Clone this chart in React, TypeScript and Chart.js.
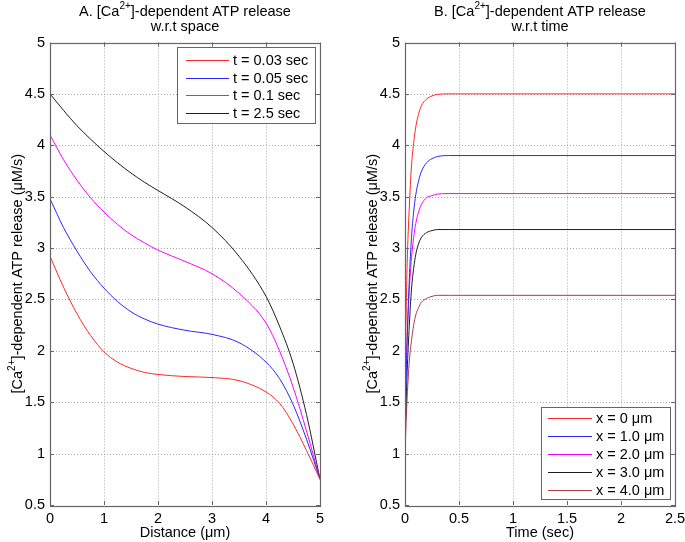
import React, { useEffect, useRef } from "react";
import { Chart, registerables } from "chart.js";
Chart.register(...registerables);

// ---------- Data ----------
const distance = [0, 0.25, 0.5, 0.75, 1, 1.25, 1.5, 1.75, 2, 2.5, 3, 3.5, 4, 4.25, 4.5, 4.75, 5];
const spaceT003 = [2.92, 2.62, 2.36, 2.15, 1.99, 1.89, 1.83, 1.79, 1.77, 1.75, 1.74, 1.71, 1.6, 1.49, 1.29, 1.03, 0.75];
const spaceT005 = [3.48, 3.2, 2.97, 2.77, 2.61, 2.48, 2.38, 2.31, 2.26, 2.2, 2.16, 2.08, 1.89, 1.73, 1.48, 1.14, 0.75];
const spaceT01 = [4.1, 3.86, 3.66, 3.49, 3.35, 3.23, 3.13, 3.05, 2.98, 2.87, 2.75, 2.56, 2.27, 2.0, 1.65, 1.22, 0.75];
const spaceT25 = [4.5, 4.34, 4.19, 4.06, 3.94, 3.83, 3.73, 3.64, 3.56, 3.4, 3.2, 2.92, 2.53, 2.24, 1.88, 1.38, 0.75];

const time = [0, 0.01, 0.02, 0.04, 0.06, 0.08, 0.1, 0.125, 0.15, 0.2, 0.25, 0.3, 0.4, 0.5, 1, 1.5, 2, 2.5];
const timeX0 = [1.8, 2.35, 2.85, 3.4, 3.8, 4.02, 4.18, 4.3, 4.38, 4.45, 4.48, 4.495, 4.5, 4.5, 4.5, 4.5, 4.5, 4.5];
const timeX1 = [1.25, 1.7, 2.1, 2.7, 3.1, 3.35, 3.52, 3.65, 3.74, 3.83, 3.87, 3.89, 3.9, 3.9, 3.9, 3.9, 3.9, 3.9];
const timeX2 = [1.5, 1.85, 2.15, 2.6, 2.9, 3.1, 3.24, 3.35, 3.42, 3.49, 3.51, 3.525, 3.53, 3.53, 3.53, 3.53, 3.53, 3.53];
const timeX3 = [1.15, 1.5, 1.8, 2.25, 2.6, 2.8, 2.94, 3.04, 3.1, 3.15, 3.17, 3.18, 3.18, 3.18, 3.18, 3.18, 3.18, 3.18];
const timeX4 = [1.0, 1.3, 1.55, 1.9, 2.1, 2.25, 2.35, 2.42, 2.47, 2.51, 2.53, 2.54, 2.54, 2.54, 2.54, 2.54, 2.54, 2.54];

const labelsA = ["t = 0.03 sec", "t = 0.05 sec", "t = 0.1 sec", "t = 2.5 sec"];
const labelsB = ["x = 0 μm", "x = 1.0 μm", "x = 2.0 μm", "x = 3.0 μm", "x = 4.0 μm"];
const colorsA = ["rgb(255,40,40)", "rgb(40,40,255)", "rgb(255,0,255)", "rgb(30,30,30)"];
const colorsB = ["rgb(255,40,40)", "rgb(40,40,255)", "rgb(255,0,255)", "rgb(30,30,30)", "rgb(175,60,75)"];

const FONT = '"Liberation Sans", Arial, Helvetica, sans-serif';
const FS = 14.5;
const BOX = "#666";

type Part = { text: string; sup?: boolean };

function drawRich(ctx: CanvasRenderingContext2D, parts: Part[], cx: number, base: number, size: number) {
  const supSize = Math.round(size * 0.72);
  ctx.textAlign = "left";
  ctx.textBaseline = "alphabetic";
  const widths = parts.map((p) => {
    ctx.font = `${p.sup ? supSize : size}px ${FONT}`;
    return ctx.measureText(p.text).width;
  });
  const total = widths.reduce((a, b) => a + b, 0);
  let x = cx - total / 2;
  parts.forEach((p, i) => {
    ctx.font = `${p.sup ? supSize : size}px ${FONT}`;
    ctx.fillText(p.text, x, p.sup ? base - size * 0.45 : base);
    x += widths[i];
  });
}

const decoPlugin = {
  id: "deco",
  beforeDatasetsDraw(chart: any) {
    const ctx: CanvasRenderingContext2D = chart.ctx;
    const { left, right, top, bottom } = chart.chartArea;
    const xs = chart.scales.x;
    const ys = chart.scales.y;
    ctx.save();
    ctx.strokeStyle = "#a8a8a8";
    ctx.lineWidth = 1;
    ctx.setLineDash([1, 2]);
    xs.ticks.forEach((t: any) => {
      const p = Math.round(xs.getPixelForValue(t.value)) + 0.5;
      if (p < left + 2 || p > right - 2) return;
      ctx.beginPath();
      ctx.moveTo(p, top);
      ctx.lineTo(p, bottom);
      ctx.stroke();
    });
    ys.ticks.forEach((t: any) => {
      const p = Math.round(ys.getPixelForValue(t.value)) + 0.5;
      if (p < top + 2 || p > bottom - 2) return;
      ctx.beginPath();
      ctx.moveTo(left, p);
      ctx.lineTo(right, p);
      ctx.stroke();
    });
    ctx.restore();
  },
  afterDraw(chart: any, _a: any, opts: any) {
    const ctx: CanvasRenderingContext2D = chart.ctx;
    const { left, right, top, bottom } = chart.chartArea;
    const xs = chart.scales.x;
    const ys = chart.scales.y;
    ctx.save();
    ctx.strokeStyle = BOX;
    ctx.lineWidth = 1;
    ctx.setLineDash([]);
    const tl = 4;
    xs.ticks.forEach((t: any) => {
      const p = Math.round(xs.getPixelForValue(t.value)) + 0.5;
      ctx.beginPath();
      ctx.moveTo(p, bottom);
      ctx.lineTo(p, bottom - tl);
      ctx.moveTo(p, top);
      ctx.lineTo(p, top + tl);
      ctx.stroke();
    });
    ys.ticks.forEach((t: any) => {
      const p = Math.round(ys.getPixelForValue(t.value)) + 0.5;
      ctx.beginPath();
      ctx.moveTo(left, p);
      ctx.lineTo(left + tl, p);
      ctx.moveTo(right, p);
      ctx.lineTo(right - tl, p);
      ctx.stroke();
    });
    ctx.strokeStyle = BOX;
    ctx.lineWidth = 1.2;
    ctx.strokeRect(Math.round(left) + 0.5, Math.round(top) + 0.5, Math.round(right - left), Math.round(bottom - top));

    ctx.fillStyle = "#000";
    const cx = (left + right) / 2;
    drawRich(ctx, opts.title1, cx, 16, FS);
    drawRich(ctx, [{ text: opts.title2 }], cx, 31, FS);
    drawRich(ctx, [{ text: opts.xTitle }], cx, 537, FS);
    ctx.save();
    ctx.translate(opts.yTitleX, (top + bottom) / 2);
    ctx.rotate(-Math.PI / 2);
    drawRich(
      ctx,
      [{ text: "[Ca" }, { text: "2+", sup: true }, { text: "]-dependent ATP release (μM/s)" }],
      0,
      0,
      FS
    );
    ctx.restore();

    const lg = opts.legend;
    ctx.fillStyle = "#fff";
    ctx.fillRect(lg.x, lg.y, lg.w, lg.h);
    ctx.strokeStyle = BOX;
    ctx.lineWidth = 1;
    ctx.strokeRect(lg.x + 0.5, lg.y + 0.5, lg.w, lg.h);
    chart.data.datasets.forEach((ds: any, i: number) => {
      const cy = lg.firstRow + i * lg.rowGap;
      ctx.strokeStyle = ds.borderColor;
      ctx.lineWidth = 1;
      ctx.beginPath();
      ctx.moveTo(lg.lineX0, Math.round(cy) + 0.5);
      ctx.lineTo(lg.lineX1, Math.round(cy) + 0.5);
      ctx.stroke();
      ctx.fillStyle = "#000";
      ctx.font = `${FS}px ${FONT}`;
      ctx.textAlign = "left";
      ctx.textBaseline = "middle";
      ctx.fillText(ds.label, lg.textX, cy + 1);
    });
    ctx.restore();
  },
};

function makeConfig(
  xs: number[],
  series: number[][],
  labels: string[],
  colors: string[],
  xMax: number,
  xStep: number,
  yAxisWidth: number,
  padRight: number,
  deco: any
): any {
  return {
    type: "line",
    data: {
      datasets: series.map((s, i) => ({
        label: labels[i],
        data: s.map((v, j) => ({ x: xs[j], y: v })),
        borderColor: colors[i],
        backgroundColor: colors[i],
        borderWidth: 1,
        pointRadius: 0,
        cubicInterpolationMode: "monotone",
        fill: false,
      })),
    },
    options: {
      responsive: false,
      animation: false,
      events: [],
      layout: { padding: { top: 42.5, right: padRight, left: 0, bottom: 0 } },
      plugins: {
        legend: { display: false },
        title: { display: false },
        tooltip: { enabled: false },
        deco,
      },
      scales: {
        x: {
          type: "linear",
          min: 0,
          max: xMax,
          grid: { display: false, drawTicks: false },
          border: { display: false },
          afterFit: (s: any) => {
            s.height = 37;
          },
          ticks: {
            stepSize: xStep,
            autoSkip: false,
            maxRotation: 0,
            padding: 5,
            color: "#000",
            font: { family: FONT, size: FS },
            callback: (v: any) => String(Math.round(Number(v) * 100) / 100),
          },
        },
        y: {
          type: "linear",
          min: 0.5,
          max: 5,
          grid: { display: false, drawTicks: false },
          border: { display: false },
          afterFit: (s: any) => {
            s.width = yAxisWidth;
          },
          ticks: {
            stepSize: 0.5,
            autoSkip: false,
            padding: 5,
            color: "#000",
            font: { family: FONT, size: FS },
            callback: (v: any) => String(Math.round(Number(v) * 100) / 100),
          },
        },
      },
    },
    plugins: [decoPlugin],
  };
}

function Panel(props: { config: any; left: number; width: number }) {
  const ref = useRef<HTMLCanvasElement | null>(null);
  useEffect(() => {
    if (!ref.current) return;
    const chart = new Chart(ref.current, props.config);
    return () => chart.destroy();
  }, []);
  return (
    <canvas
      ref={ref}
      width={props.width}
      height={542}
      style={{ position: "absolute", left: props.left, top: 0, width: props.width, height: 542 }}
    />
  );
}

export default function App() {
  const configA = makeConfig(
    distance,
    [spaceT003, spaceT005, spaceT01, spaceT25],
    labelsA,
    colorsA,
    5,
    1,
    50,
    22,
    {
      title1: [{ text: "A. [Ca" }, { text: "2+", sup: true }, { text: "]-dependent ATP release" }],
      title2: "w.r.t space",
      xTitle: "Distance (μm)",
      yTitleX: 22,
      legend: { x: 177, y: 47, w: 138, h: 76, firstRow: 60, rowGap: 17.5, lineX0: 186, lineX1: 229, textX: 233 },
    }
  );
  const configB = makeConfig(
    time,
    [timeX0, timeX1, timeX2, timeX3, timeX4],
    labelsB,
    colorsB,
    2.5,
    0.5,
    63,
    28,
    {
      title1: [{ text: "B. [Ca" }, { text: "2+", sup: true }, { text: "]-dependent ATP release" }],
      title2: "w.r.t time",
      xTitle: "Time (sec)",
      yTitleX: 35,
      legend: { x: 199, y: 407, w: 129, h: 92, firstRow: 417.5, rowGap: 18, lineX0: 206, lineX1: 250, textX: 254 },
    }
  );
  return (
    <div
      style={{
        position: "absolute",
        left: 0,
        top: 0,
        width: 685,
        height: 542,
        overflow: "hidden",
        background: "#fff",
      }}
    >
      <Panel config={configA} left={0} width={342} />
      <Panel config={configB} left={342} width={361} />
    </div>
  );
}
